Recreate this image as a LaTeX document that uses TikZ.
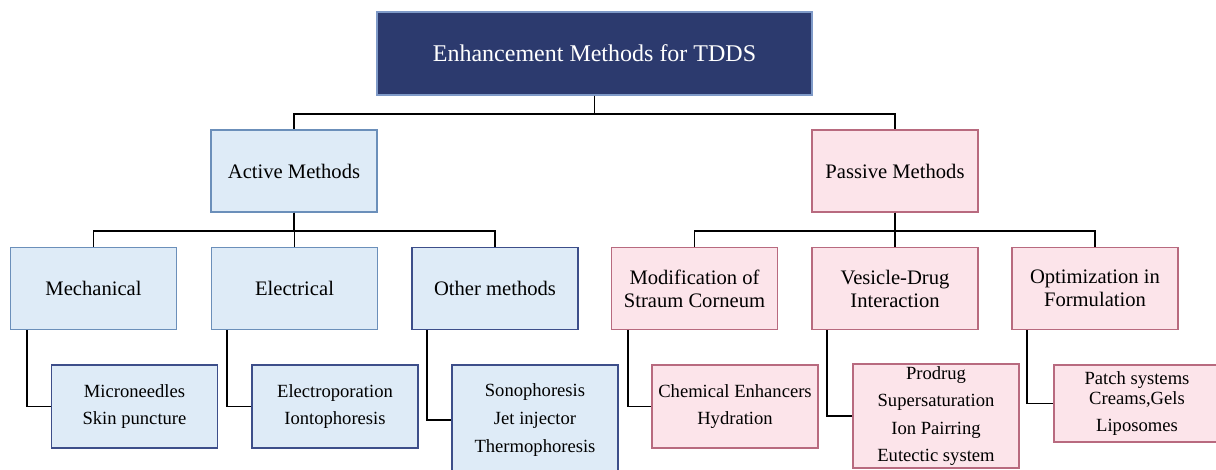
\documentclass[tikz,border=0pt]{standalone}
\usepackage{fontspec}
\setmainfont{Liberation Serif}
\definecolor{topfill}{HTML}{2C3A6E}
\definecolor{topline}{HTML}{7F9AC8}
\definecolor{bluefill}{HTML}{DEEBF7}
\definecolor{blueline}{HTML}{6B8FBA}
\definecolor{navyline}{HTML}{3D4E8A}
\definecolor{pinkfill}{HTML}{FCE4EA}
\definecolor{pinkline}{HTML}{B86A7F}
\tikzset{
    TOP/.style ={rectangle,minimum width = 217.5pt, minimum height = 41.5pt, draw=topline, fill=topfill, text=white, line width=0.75pt, font=\fontsize{12}{14}\selectfont},
    RB1/.style ={rectangle,minimum width = 83pt, minimum height = 41pt, draw=blueline, fill=bluefill, line width=0.75pt, align=center, inner sep=1pt, font=\fontsize{10.3}{11.5}\selectfont},
    RB2/.style ={RB1, draw=navyline},
    RP1/.style ={RB1, draw=pinkline, fill=pinkfill},
    LB/.style ={rectangle,minimum width = 83pt, minimum height = 41.5pt, draw=navyline, fill=bluefill, line width=0.75pt, align=center, inner sep=1pt, font=\fontsize{9.3}{13.8}\selectfont},
    LP/.style ={LB, draw=pinkline, fill=pinkfill},
    CN/.style ={black, line width=0.8pt}}
\begin{document}
\begin{tikzpicture}[x=0.5pt,y=-0.5pt]
        \clip (0,0) rectangle (1216,470);
        \node[TOP] (1) at(594.5,53.5){Enhancement Methods for TDDS};
        \node[RB1] (2) at(294,171){Active Methods};
        \node[RP1] (3) at(895,171){Passive Methods};
        \node[RB1] (4) at(93.5,288.5){Mechanical};
        \node[RB1] (5) at(294.5,288.5){Electrical};
        \node[RB2] (6) at(495,288.5){Other methods};
        \node[RP1] (7) at(694.5,288.5){Modification of\\Straum Corneum};
        \node[RP1] (8) at(895,288.5){Vesicle-Drug\\Interaction};
        \node[RP1] (9) at(1095,288.5){Optimization in\\Formulation};
        \node[LB] (10) at(134.5,406.5){Microneedles\\Skin puncture};
        \node[LB] (11) at(335,406.5){Electroporation\\Iontophoresis};
        \node[LB,minimum height=55pt] (12) at(535,420){Sonophoresis\\Jet injector\\Thermophoresis};
        \node[LP] (13) at(735,406.5){Chemical Enhancers\\Hydration};
        \node[LP,minimum height=51pt] (14) at(936,416){Prodrug\\Supersaturation\\Ion Pairring\\Eutectic system};
        \node[LP,minimum height=38.5pt] (15) at(1137,403.5){Patch systems\\[-3.8pt]Creams,Gels\\Liposomes};
        \draw[CN] (1.south) --++(0,18) -| (2.north);
        \draw[CN] (1.south) --++(0,18) -| (3.north);
        \draw[CN] (2.south) --++(0,18) -| (4.north);
        \draw[CN] (2.south) --++(0,18) -| (5.north);
        \draw[CN] (2.south) --++(0,18) -| (6.north);
        \draw[CN] (3.south) --++(0,18) -| (7.north);
        \draw[CN] (3.south) --++(0,18) -| (8.north);
        \draw[CN] (3.south) --++(0,18) -| (9.north);
        \draw[CN] ([xshift=8.5pt]4.south west) |- (10);
        \draw[CN] ([xshift=8pt]5.south west) |- (11);
        \draw[CN] ([xshift=8pt]6.south west) |- (12);
        \draw[CN] ([xshift=8.5pt]7.south west) |- (13);
        \draw[CN] ([xshift=8pt]8.south west) |- (14);
        \draw[CN] ([xshift=8pt]9.south west) |- (15);
    \end{tikzpicture}
\end{document}
